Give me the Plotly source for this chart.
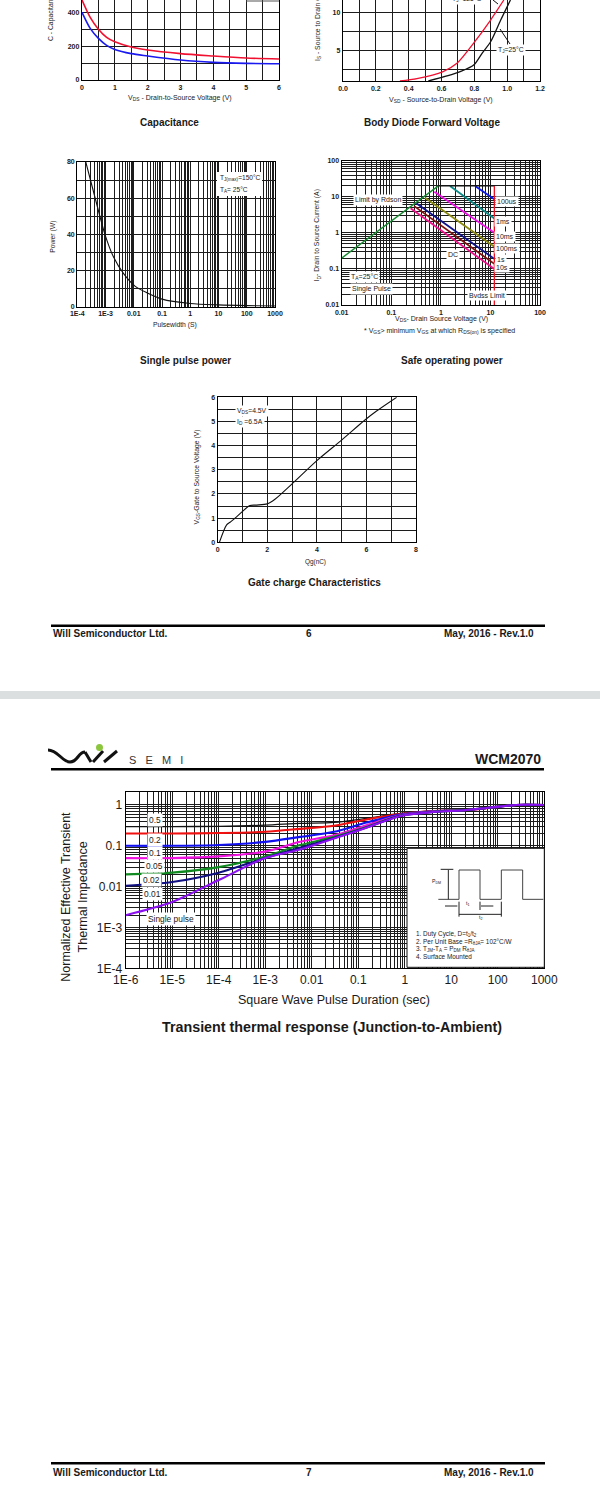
import plotly.graph_objects as go

W, H = 600, 1493

# ---------- data ----------
cap_v = [0, 0.25, 0.5, 0.75, 1, 1.5, 2, 3, 4, 5, 6]
cap_red = [473, 370, 300, 252, 226, 195, 177, 156, 142, 130, 124]
cap_blue = [400, 305, 246, 205, 181, 156, 142, 118, 104, 98, 96]
cap_xtick = [0, 1, 2, 3, 4, 5, 6]
cap_ytick = [0, 200, 400]

diode_v_red = [0.347, 0.45, 0.61, 0.694, 0.796, 0.898, 0.98]
diode_i_red = [1, 1.3, 2.24, 3.33, 6, 9, 11.67]
diode_v_blk = [0.52, 0.633, 0.714, 0.796, 0.847, 0.9, 0.96, 1.02]
diode_i_blk = [1, 1.67, 2.24, 3.1, 4.65, 6.2, 9, 11.67]

pulse_t = [2e-4, 6.3e-4, 9.5e-4, 1.9e-3, 4.3e-3, 0.011, 0.029, 0.1, 1, 10, 100, 1000]
pulse_p = [80, 50, 40, 27.6, 18.4, 11.4, 7.7, 4.2, 1.8, 1.0, 0.6, 0.4]

soa_names = ["100us", "1ms", "10ms", "100ms", "1s", "1s_b", "10s"]
soa_x = [[4.9, 12], [1.53, 12], [0.74, 12], [0.48, 12], [0.32, 12], [0.29, 12], [0.245, 12]]
soa_y = [[20, 8.5], [20, 2.5], [13.8, 1.0], [9.4, 0.41], [6.6, 0.19], [5.5, 0.138], [4.8, 0.1]]
soa_colors = ["#0a18e8", "#0b8a86", "#f010e8", "#8a8a10", "#10108a", "#801010", "#f0108a"]
rds_x = [0.01, 0.89]
rds_y = [0.2, 20]
idm_x = [0.89, 12]
idm_y = [20, 20]
bv_x = [12, 12]
bv_y = [20, 0.01]

gate_q = [0.07, 0.36, 0.5, 0.77, 1.3, 1.57, 2.0, 2.31, 2.98, 3.99, 5, 5.94, 6.41, 7.22]
gate_v = [0, 0.72, 0.83, 1.06, 1.52, 1.54, 1.59, 1.78, 2.4, 3.37, 4.23, 5.06, 5.43, 6]

th_t = [1e-6, 1e-5, 1e-4, 1e-3, 5.6e-3, 0.03, 0.15, 0.8, 4, 21, 110, 250, 1000]
th_black = [0.295, 0.295, 0.3, 0.32, 0.355, 0.375, 0.47, 0.62, 0.72, 0.75, 0.91, 1, 1]
th_red = [0.2, 0.2, 0.205, 0.22, 0.26, 0.31, 0.44, 0.6, 0.71, 0.75, 0.91, 1, 1]
th_blue = [0.1, 0.1, 0.105, 0.125, 0.165, 0.22, 0.37, 0.58, 0.7, 0.75, 0.91, 1, 1]
th_magenta = [0.05, 0.05, 0.055, 0.072, 0.125, 0.18, 0.32, 0.56, 0.69, 0.75, 0.91, 1, 1]
th_green = [0.02, 0.022, 0.03, 0.055, 0.104, 0.166, 0.29, 0.55, 0.68, 0.75, 0.91, 1, 1]
th_navy = [0.0105, 0.013, 0.022, 0.05, 0.09, 0.155, 0.28, 0.54, 0.67, 0.75, 0.91, 1, 1]
th_purple = [0.002, 0.0042, 0.0145, 0.05, 0.081, 0.15, 0.276, 0.537, 0.67, 0.75, 0.91, 1, 1]
th_labels = ["0.5", "0.2", "0.1", "0.05", "0.02", "0.01", "Single pulse"]
th_colors = ["#111111", "#f01010", "#1010f0", "#f010e0", "#108a20", "#101080", "#8a10f0"]
th_series = [th_black, th_red, th_blue, th_magenta, th_green, th_navy, th_purple]

decade_multipliers = [1, 2, 3, 4, 5, 6, 7, 8, 9]

# ---------- helpers ----------
FONT = "Liberation Sans"
INK = "#1a1a1a"


def px(x):
    return x / W


def py(y):
    return 1 - y / H


def log_grid(first, last):
    vals = []
    for e in range(first, last):
        vals += [float(f"{m}e{e}") for m in decade_multipliers]
    vals.append(float(f"1e{last}"))
    return vals


def axis(rect_lo, rect_hi, rng, grid_vals, labels, is_x, log=False, size=7, bold=True,
         grid_w=1.0, mirror=True, line_w=1.4, anchor=None, gridcolor="#1c1c1c"):
    major = [v for v in grid_vals if v in labels]
    minor = [v for v in grid_vals if v not in labels]
    d = dict(
        domain=[px(rect_lo), px(rect_hi)] if is_x else [py(rect_hi), py(rect_lo)],
        range=rng,
        type="log" if log else "linear",
        automargin=False,
        tickmode="array",
        tickvals=major,
        ticktext=[labels[v] for v in major],
        tickangle=0,
        ticks="",
        showgrid=True,
        gridcolor=gridcolor,
        gridwidth=grid_w,
        minor=dict(tickmode="array", tickvals=minor, ticks="", showgrid=True, gridcolor=gridcolor, gridwidth=grid_w),
        zeroline=False,
        showline=True,
        linecolor="#000000",
        linewidth=line_w,
        mirror=mirror,
        anchor=anchor,
        tickfont=dict(family=FONT, size=size, color=INK, weight=700 if bold else 400),
    )
    return d


annotations = []
shapes = []


def label(text, x, y, size=7, bold=False, anchor="center", bg=None, angle=0, color=INK):
    annotations.append(dict(
        text=text, x=px(x), y=py(y), xref="paper", yref="paper",
        xanchor=anchor, yanchor="middle", showarrow=False, textangle=angle,
        bgcolor=bg if bg else "rgba(0,0,0,0)", borderpad=1,
        font=dict(family=FONT, size=size, color=color, weight=700 if bold else 400),
    ))


def rect(x0, y0, x1, y1, fill, line=None, layer="below", lw=1):
    shapes.append(dict(type="rect", xref="paper", yref="paper", x0=px(x0), x1=px(x1), y0=py(y0), y1=py(y1),
                       fillcolor=fill, line=dict(color=line or fill, width=lw if line else 0), layer=layer))


def seg(x0, y0, x1, y1, color="#333333", lw=1):
    shapes.append(dict(type="line", xref="paper", yref="paper", x0=px(x0), x1=px(x1), y0=py(y0), y1=py(y1),
                       line=dict(color=color, width=lw), layer="above"))


layout = {}
traces = []


def add(i, x, y, color, width, shape="spline"):
    traces.append(go.Scatter(x=x, y=y, mode="lines", xaxis=f"x{i}", yaxis=f"y{i}", hoverinfo="skip",
                             showlegend=False, line=dict(color=color, width=width, shape=shape, smoothing=0.8)))


# ---------- panel 1: capacitance ----------
layout["xaxis1"] = axis(82, 279, [0, 6], [i * 0.5 for i in range(13)], {v: str(v) for v in cap_xtick}, True,
                        mirror=False, anchor="y1")
layout["yaxis1"] = axis(0, 80, [0, 473], [i * 100 for i in range(5)], {v: str(v) for v in cap_ytick}, False,
                        anchor="x1")
add(1, cap_v, cap_red, "#f01030", 1.6)
add(1, cap_v, cap_blue, "#1a1af0", 1.6)
label("V<sub>DS</sub> - Drain-to-Source Voltage (V)", 180, 98, 7)
label("C - Capacitance (pF)", 51, 10, 6.8, angle=-90)
label("Capacitance", 169, 122, 10, True)
seg(246, 1, 279, 1, "#555555", 1)

# ---------- panel 2: diode ----------
layout["xaxis2"] = axis(343, 540, [0, 1.2], [round(i * 0.1, 1) for i in range(13)],
                        {round(i * 0.2, 1): f"{i * 0.2:.1f}" for i in range(7)}, True, mirror=False, anchor="y2")
layout["yaxis2"] = axis(0, 81, [1, 11.67], [2.5, 5, 7.5, 10], {5: "5", 10: "10"}, False, anchor="x2")
add(2, diode_v_red, diode_i_red, "#f01030", 1.3)
add(2, diode_v_blk, diode_i_blk, "#111111", 1.3)
seg(493, 0, 498, 4, "#111111", 1)
seg(500, 29, 510, 44, "#111111", 1)
label("T<sub>J</sub>=25°C", 511, 50, 6.8, bg="white")
label("T<sub>J</sub>=125°C", 467, -1, 6.8, bg="white")
label("V<sub>SD</sub> - Source-to-Drain Voltage (V)", 441, 100, 7)
label("I<sub>S</sub> - Source to Drain Current (A)", 318, 14, 6.8, angle=-90)
label("Body Diode Forward Voltage", 432, 122, 10, True)

# ---------- panel 3: single pulse ----------
layout["xaxis3"] = axis(77.3, 275, [-4, 3], log_grid(-4, 3),
                        {1e-4: "1E-4", 1e-3: "1E-3", 1e-2: "0.01", 0.1: "0.1", 1.0: "1", 10.0: "10", 100.0: "100", 1000.0: "1000"},
                        True, log=True, grid_w=0.8, anchor="y3")
layout["yaxis3"] = axis(162, 306.7, [0, 80], [i * 10 for i in range(9)], {i * 20: str(i * 20) for i in range(5)},
                        False, anchor="x3")
add(3, pulse_t, pulse_p, "#111111", 1.1)
label("Pulsewidth (S)", 175, 325, 6.8)
label("Power (W)", 52.7, 237, 6.8, angle=-90)
label("Single pulse power", 185.7, 360, 10, True)
rect(217, 172, 262, 196, "white", layer="above")
label("T<sub>J(max)</sub>=150°C", 218, 178, 6.6, anchor="left")
label("T<sub>A</sub>= 25°C", 218, 190, 6.6, anchor="left")

# ---------- panel 4: SOA ----------
decades = {1e-2: "0.01", 0.1: "0.1", 1.0: "1", 10.0: "10", 100.0: "100"}
layout["xaxis4"] = axis(341.7, 540, [-2, 2], log_grid(-2, 2), decades, True, log=True, grid_w=0.8, anchor="y4")
layout["yaxis4"] = axis(160.7, 305, [-2, 2], log_grid(-2, 2), decades, False, log=True, grid_w=0.8, anchor="x4")
for x, y, c in zip(soa_x, soa_y, soa_colors):
    add(4, x, y, c, 1.8, "linear")
add(4, rds_x, rds_y, "#158a30", 1.4, "linear")
add(4, idm_x, idm_y, "#111111", 1.3, "linear")
add(4, bv_x, bv_y, "#f01020", 1.3, "linear")
for t, x, y, s in [("Limit by Rdson", 377.7, 200, 7), ("100us", 507, 201.7, 7), ("1ms", 503, 221.7, 7),
                   ("10ms", 505, 236, 7), ("100ms", 507.3, 248.3, 7), ("1s", 501, 259.3, 7), ("10s", 502, 267.3, 7),
                   ("DC", 453, 254.3, 7), ("T<sub>A</sub>=25°C", 365, 277.3, 7), ("Single Pulse", 371.7, 289, 7),
                   ("Bvdss Limit", 486.7, 295.7, 7)]:
    label(t, x, y, s, bg="white")
label("V<sub>DS</sub>- Drain Source Voltage (V)", 441.7, 319, 7)
label("* V<sub>GS</sub>&gt; minimum V<sub>GS</sub> at which R<sub>DS(on)</sub> is specified", 440, 330.7, 7)
label("I<sub>D</sub>- Drain to Source Current (A)", 317.3, 235, 6.8, angle=-90)
label("Safe operating power", 451.7, 360, 10, True)

# ---------- panel 5: gate charge ----------
layout["xaxis5"] = axis(217.7, 416, [0, 8], list(range(9)), {i: str(i) for i in [0, 2, 4, 6, 8]}, True, anchor="y5")
layout["yaxis5"] = axis(397.3, 542.3, [0, 6], [i * 0.5 for i in range(13)], {float(i): str(i) for i in range(7)},
                        False, anchor="x5")
add(5, gate_q, gate_v, "#111111", 1.1)
label("Qg(nC)", 316, 561.7, 6.4)
label("V<sub>GS</sub>-Gate to Source Voltage (V)", 196.7, 476.7, 6.8, angle=-90)
label("Gate charge Characteristics", 314, 582.7, 10, True)
label("V<sub>DS</sub>=4.5V", 251.7, 410.7, 6.8, bg="white")
label("I<sub>D</sub> =6.5A", 250, 422.3, 6.8, bg="white")

# ---------- panel 6: thermal ----------
layout["xaxis6"] = axis(125.7, 544.3, [-6, 3], log_grid(-6, 3),
                        {1e-6: "1E-6", 1e-5: "1E-5", 1e-4: "1E-4", 1e-3: "1E-3", 1e-2: "0.01", 0.1: "0.1", 1.0: "1",
                         10.0: "10", 100.0: "100", 1000.0: "1000"},
                        True, log=True, size=12, bold=False, grid_w=0.8, anchor="y6")
layout["yaxis6"] = axis(792.3, 968.3, [-4, 0.31], log_grid(-4, 0),
                        {1e-4: "1E-4", 1e-3: "1E-3", 1e-2: "0.01", 0.1: "0.1", 1.0: "1"},
                        False, log=True, size=12, bold=False, grid_w=0.8, anchor="x6")
for s, c in zip(th_series, th_colors):
    add(6, th_t, s, c, 1.3 if c == "#111111" else 2.1)
label("Square Wave Pulse Duration (sec)", 334, 1000, 12.5)
label("Normalized Effective Transient", 66, 896.7, 12.5, angle=-90)
label("Thermal Impedance", 82.7, 896.7, 12.5, angle=-90)
label("Transient thermal response (Junction-to-Ambient)", 331.5, 1027, 14.3, True)
for t, x, y in zip(th_labels, [155, 155, 155, 154, 151.3, 152, 171], [820, 840, 852.7, 865.7, 880, 894, 918.7]):
    label(t, x, y, 8.4, bg="white")

# inset
rect(407, 848.3, 544.3, 967.3, "white", "#111111", layer="above", lw=1)
ZX = lambda z: 300 + z / 3
ZY = lambda z: 730 + z / 3
wave = [(415, 508), (477, 508), (477, 420), (540, 420), (540, 508), (604, 508), (604, 420), (668, 420), (668, 508), (730, 508)]
for a, b in zip(wave[:-1], wave[1:]):
    seg(ZX(a[0]), ZY(a[1]), ZX(b[0]), ZY(b[1]), "#444444", 1)
seg(ZX(422), ZY(418), ZX(460), ZY(418), "#222222", 1)
seg(ZX(445), ZY(420), ZX(445), ZY(508), "#222222", 1)
seg(ZX(435), ZY(528), ZX(472), ZY(528), "#222222", 1)
seg(ZX(543), ZY(528), ZX(580), ZY(528), "#222222", 1)
seg(ZX(477), ZY(553), ZX(604), ZY(553), "#222222", 1)
seg(ZX(477), ZY(515), ZX(477), ZY(560), "#222222", 1)
seg(ZX(540), ZY(515), ZX(540), ZY(540), "#222222", 1)
seg(ZX(604), ZY(515), ZX(604), ZY(560), "#222222", 1)
label("P<sub>DM</sub>", ZX(408), ZY(453), 5.2)
label("t<sub>1</sub>", ZX(503), ZY(520), 5.2)
label("t<sub>2</sub>", ZX(540), ZY(563), 5.2)
for t, y in [("1. Duty Cycle, D=t<sub>1</sub>/t<sub>2</sub>", 611), ("2. Per Unit Base =R<sub>θJA</sub>= 102°C/W", 635),
             ("3. T<sub>JM</sub>-T<sub>A</sub> = P<sub>DM</sub> R<sub>θJA</sub>", 657), ("4. Surface Mounted", 679)]:
    label(t, ZX(342), ZY(y), 6.4, anchor="left")

# ---------- page furniture ----------
rect(0, 691, 600, 699, "#dcdfe0")
rect(51, 624.5, 545, 627, "#000000", layer="above")
rect(51, 1462, 545, 1464.5, "#000000", layer="above")
rect(51, 768, 544, 770.5, "#000000", layer="above")
for y, n in [(633, "6"), (1472, "7")]:
    label("Will Semiconductor Ltd.", 50.5, y, 10, True, anchor="left")
    label(n, 308.5, y, 10, True)
    label("May, 2016 - Rev.1.0", 536, y, 10, True, anchor="right")
label("WCM2070", 543, 759, 14, True, anchor="right")
label("S\u00a0\u00a0\u00a0E\u00a0\u00a0\u00a0M\u00a0\u00a0\u00a0I", 156, 760, 11, color="#333333")

logo_curve = "M {} {} C {} {} {} {} {} {} C {} {} {} {} {} {}".format(
    px(48), py(750), px(58), py(750), px(62), py(762), px(70), py(762),
    px(78), py(762), px(78), py(752), px(85), py(752))
shapes.append(dict(type="path", xref="paper", yref="paper", path=logo_curve, line=dict(color="#111111", width=3), layer="above"))
seg(85, 752, 91, 762, "#111111", 3)
seg(93, 762, 103, 751, "#111111", 3)
seg(104, 762, 117, 751, "#111111", 3)
shapes.append(dict(type="circle", xref="paper", yref="paper", x0=px(96), x1=px(103), y0=py(751), y1=py(744),
                   fillcolor="#8cc63f", line=dict(width=0), layer="above"))

fig = go.Figure(traces)
fig.update_layout(
    template="none",
    width=W, height=H, margin=dict(l=0, r=0, t=0, b=0, pad=0, autoexpand=False), paper_bgcolor="white", plot_bgcolor="white",
    showlegend=False, annotations=annotations, shapes=shapes, hovermode=False, **layout,
)
fig.write_html("out.html", config={"displayModeBar": False},
               post_script="document.body.style.margin='0';document.body.style.overflow='hidden';")
